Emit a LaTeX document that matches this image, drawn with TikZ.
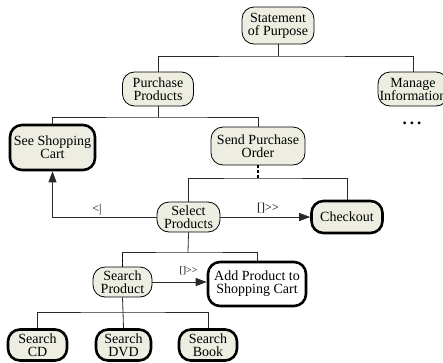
\documentclass[tikz,border=0pt]{standalone}
\usepackage{fontspec}
\setmainfont{Liberation Serif}
\usetikzlibrary{arrows.meta}
\definecolor{boxfill}{RGB}{237,237,226}
\definecolor{wire}{RGB}{40,40,40}
\begin{document}
\begin{tikzpicture}[x=1pt,y=-1pt,
  task/.style={draw=black,fill=boxfill,line width=0.8pt,rounded corners=12pt,
    align=center,inner sep=0pt,font=\fontsize{14}{13}\selectfont},
  leaf/.style={task,line width=2.6pt},
  wirel/.style={draw=wire,line width=0.8pt},
  dashwire/.style={draw=black,line width=1.6pt,dash pattern=on 3pt off 2pt},
  flow/.style={wirel,-{Triangle[length=11pt,width=8pt]}},
  oplabel/.style={font=\fontsize{12}{12}\selectfont,inner sep=0pt}]
\useasboundingbox (0,0) rectangle (443,362);

% task nodes
\node[task,minimum width=72pt,minimum height=37pt] (stmt) at (278,25.5) {Statement\\of Purpose};
\node[task,minimum width=71pt,minimum height=34pt] (pp) at (158,89) {Purchase\\Products};
\node[task,minimum width=70pt,minimum height=34pt] (mi) at (413,89) {Manage\\Information};
\node[font=\fontsize{17}{17}\selectfont\bfseries,inner sep=0pt] (more) at (412,123) {.\hspace{3pt}.\hspace{3pt}.};
\node[leaf,minimum width=85pt,minimum height=45pt] (see) at (52.5,147.5) {See Shopping\\Cart};
\node[task,minimum width=94pt,minimum height=38pt] (spo) at (258,146) {Send Purchase\\Order};
\node[task,minimum width=63pt,minimum height=30pt] (sel) at (188.5,217) {Select\\Products};
\node[leaf,minimum width=71pt,minimum height=32pt] (chk) at (347,217) {Checkout};
\node[task,minimum width=59pt,minimum height=30pt] (sp) at (122.5,282) {Search\\Product};
\node[leaf,fill=white,minimum width=98pt,minimum height=44pt] (add) at (257,284) {Add Product to\\Shopping Cart};
\node[leaf,minimum width=59pt,minimum height=31pt] (cd) at (37.5,345) {Search\\CD};
\node[leaf,minimum width=55pt,minimum height=31pt] (dvd) at (123.5,345) {Search\\DVD};
\node[leaf,minimum width=58pt,minimum height=31pt] (book) at (208,345) {Search\\Book};

% bus junctions
\coordinate (j1) at (278,56);
\coordinate (j2) at (158,117);
\coordinate (j3) at (258,178);
\coordinate (j4) at (188,252);
\coordinate (j5) at (123,312);

% hierarchy
\draw[wirel] (stmt.south) -- (j1);
\draw[wirel] (pp.north) |- (j1) -| (mi.north);
\draw[wirel] (pp.south) -- (j2);
\draw[wirel] (see.north) |- (j2) -| (spo.north);
\draw[dashwire] (spo.south) -- (j3);
\draw[wirel] (sel.north) |- (j3) -| (chk.north);
\draw[wirel] (sel.south) -- (j4);
\draw[wirel] (sp.north) |- (j4) -| (add.north);
\draw[dashwire] (sp.north) -- (sp.north |- j4);
\draw[wirel] (sp.south) -- (j5);
\draw[wirel] (cd.north) |- (j5) -| (book.north);
\draw[wirel] (dvd.north) -- (j5);

% temporal relations
\draw[flow] (sel.east) -- (chk.west);
\node[oplabel] (l1) at (268,208) {[]>{}>};
\draw[flow] (sel.west) -| (see.south);
\node[oplabel] (l2) at (97,209.5) {<|};
\draw[flow] (sp.east) -- (sp.east -| add.west);
\node[oplabel,font=\fontsize{10}{10}\selectfont] (l3) at (188.5,271) {[]>{}>};
\end{tikzpicture}
\end{document}
